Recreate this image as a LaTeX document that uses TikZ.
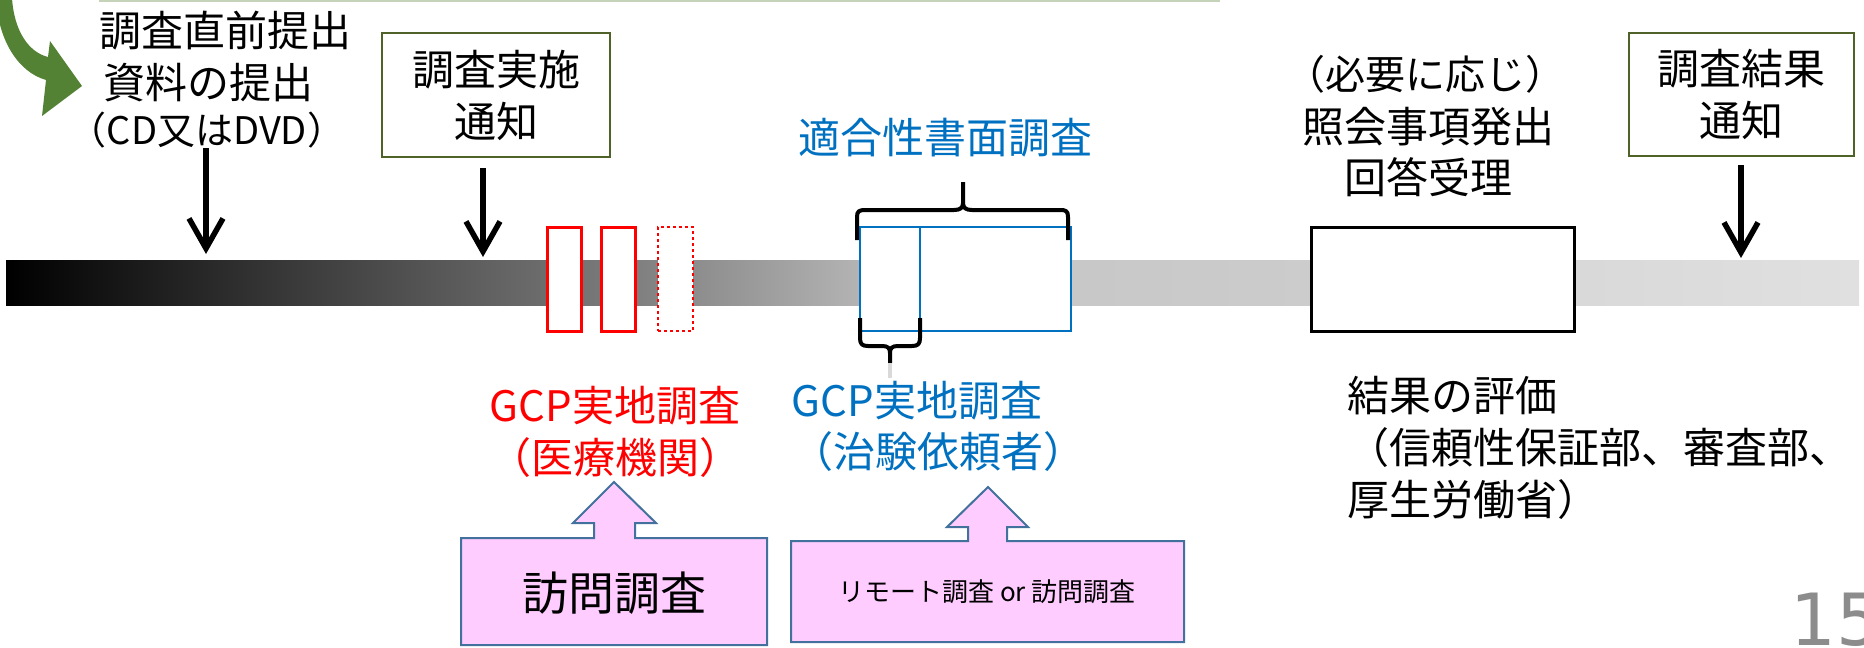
\documentclass[tikz,border=0pt]{standalone}
\usepackage{fontspec}
\setmainfont{Noto Sans CJK JP}
\newfontfamily\numfont{DejaVu Sans}
\usetikzlibrary{arrows.meta}
\definecolor{boxgreen}{HTML}{4F6228}
\definecolor{arrowgreen}{HTML}{548235}
\definecolor{topline}{HTML}{C5D3B8}
\definecolor{mblue}{HTML}{0070C0}
\definecolor{mred}{HTML}{FF0000}
\definecolor{pinkfill}{HTML}{FFCCFF}
\definecolor{pinkedge}{HTML}{41719C}
\definecolor{stubgray}{HTML}{D9D9D9}
\definecolor{numgray}{HTML}{8C8C8C}
\definecolor{gA}{HTML}{808080}
\definecolor{gB}{HTML}{B4B4B4}
\definecolor{gC}{HTML}{C4C4C4}
\definecolor{gD}{HTML}{CCCCCC}
\definecolor{gE}{HTML}{D2D2D2}
\definecolor{gF}{HTML}{E0E0E0}
\begin{document}
\begin{tikzpicture}[x=1pt,y=-1pt,
  jp/.style={inner sep=0pt, anchor=base, font=\fontsize{42}{52}\selectfont},
  greenbox/.style={draw=boxgreen, line width=2pt, fill=white, inner sep=0pt, align=center, font=\fontsize{42}{52}\selectfont},
  redbox/.style={draw=mred, line width=3pt, fill=white, minimum width=34pt, minimum height=104pt, inner sep=0pt},
  downarrow/.style={line width=5.5pt, -{Straight Barb[length=30pt,width=34pt]}},
  bracepath/.style={line width=4pt, line join=round},
  pinkarrow/.style={fill=pinkfill, draw=pinkedge, line width=2pt, line join=miter},
]
\useasboundingbox (0,0) rectangle (1864,648);

% timeline bar
\shade[left color=black, right color=gA] (6,260) rectangle (642,305);
\shade[left color=gA, right color=gB] (640,260) rectangle (862,305);
\shade[left color=gC, right color=gD] (860,260) rectangle (1313,305);
\shade[left color=gE, right color=gF] (1311,260) rectangle (1859,305);

% top rule and green curved arrow
\draw[topline, line width=2pt] (99,1) -- (1220,1);
\fill[arrowgreen] (12,-2) .. controls (14,30) and (28,52) .. (48,57) -- (50,41) -- (82,86) -- (42,116) -- (46,80) .. controls (18,72) and (-2,40) .. (-4,-2) -- cycle;

% top-left text
\node[jp] (t1) at (225,46) {調査直前提出};
\node[jp] (t2) at (208,98) {資料の提出};
\node[jp, font=\fontsize{38}{48}\selectfont] (t3) at (207,144) {（CD又はDVD）};

% green boxes
\node[greenbox, minimum width=228pt, minimum height=124pt] (gb1) at (496,95) {調査実施\\通知};
\node[greenbox, minimum width=225pt, minimum height=123pt] (gb2) at (1741.5,94.5) {調査結果\\通知};

% down arrows
\coordinate (a1s) at (206,148); \coordinate (a1e) at (206,254);
\coordinate (a2s) at (483,168); \coordinate (a2e) at (483,257);
\coordinate (a3s) at (1741,165); \coordinate (a3e) at (1741,258);
\draw[downarrow] (a1s) -- (a1e);
\draw[downarrow] (a2s) -- (a2e);
\draw[downarrow] (a3s) -- (a3e);

% right upper text
\node[jp, font=\fontsize{40}{50}\selectfont] (r1) at (1425,89) {（必要に応じ）};
\node[jp] (r2) at (1428,142) {照会事項発出};
\node[jp] (r3) at (1428,193) {回答受理};

% blue title
\node[jp, text=mblue] (wt) at (945,153) {適合性書面調査};

% boxes on the bar
\node[redbox] (rb1) at (564,279) {};
\node[redbox] (rb2) at (618,279) {};
\node[redbox, dash pattern=on 3pt off 3pt, line width=2.5pt, minimum width=35pt] (rb3) at (675.5,279) {};
\node[draw=mblue, line width=2.5pt, fill=white, minimum width=211pt, minimum height=104pt, inner sep=0pt] (bb) at (965.5,279) {};
\coordinate (bd1) at (920,227); \coordinate (bd2) at (920,331);
\draw[mblue, line width=2.5pt] (bd1) -- (bd2);
\node[draw=black, line width=3pt, fill=white, minimum width=263pt, minimum height=104pt, inner sep=0pt] (kb) at (1442.5,279) {};

% braces
\draw[bracepath] (857,240) -- (857,217) .. controls (857,211) and (859,210) .. (866,210) -- (954,210) .. controls (960,210) and (963,208) .. (963,203) -- (963,182);
\draw[bracepath] (963,203) .. controls (963,208) and (966,210) .. (972,210) -- (1060,210) .. controls (1066,210) and (1068,211) .. (1068,217) -- (1068,240);
\draw[bracepath] (860,318) -- (860,338) .. controls (860,344) and (862,346) .. (868,346) -- (882,346) .. controls (888,346) and (890,348) .. (890,353) -- (890,363);
\draw[bracepath] (890,353) .. controls (890,348) and (892,346) .. (898,346) -- (912,346) .. controls (918,346) and (920,344) .. (920,338) -- (920,318);
\draw[stubgray, line width=4pt] (890,363) -- (890,378);

% red / blue labels
\node[jp, text=mred] (rt1) at (615,421) {GCP実地調査};
\node[jp, text=mred] (rt2) at (615,473) {（医療機関）};
\node[jp, text=mblue] (bt1) at (917,416) {GCP実地調査};
\node[jp, text=mblue] (bt2) at (938,467) {（治験依頼者）};

% pink block arrows
\draw[pinkarrow] (461,645) -- (461,538) -- (594,538) -- (594,523) -- (573,523) -- (614,482) -- (656,523) -- (635,523) -- (635,538) -- (767,538) -- (767,645) -- cycle;
\node[jp, font=\fontsize{46}{56}\selectfont] (pa1) at (614,610) {訪問調査};
\draw[pinkarrow] (791,642) -- (791,541) -- (968,541) -- (968,527) -- (947,527) -- (988,487) -- (1028,527) -- (1007,527) -- (1007,541) -- (1184,541) -- (1184,642) -- cycle;
\node[jp, font=\fontsize{26}{32}\selectfont] (pa2) at (987,601) {リモート調査 or 訪問調査};

% evaluation text
\node[jp, anchor=base west] (ev1) at (1347,411) {結果の評価};
\node[jp, anchor=base west] (ev2) at (1347,463) {（信頼性保証部、審査部、};
\node[jp, anchor=base west] (ev3) at (1347,515) {厚生労働省）};

% page number
\node[inner sep=0pt, anchor=base west, font=\numfont\fontsize{72}{80}\selectfont, text=numgray] (pg) at (1790,645) {15};
\end{tikzpicture}
\end{document}
